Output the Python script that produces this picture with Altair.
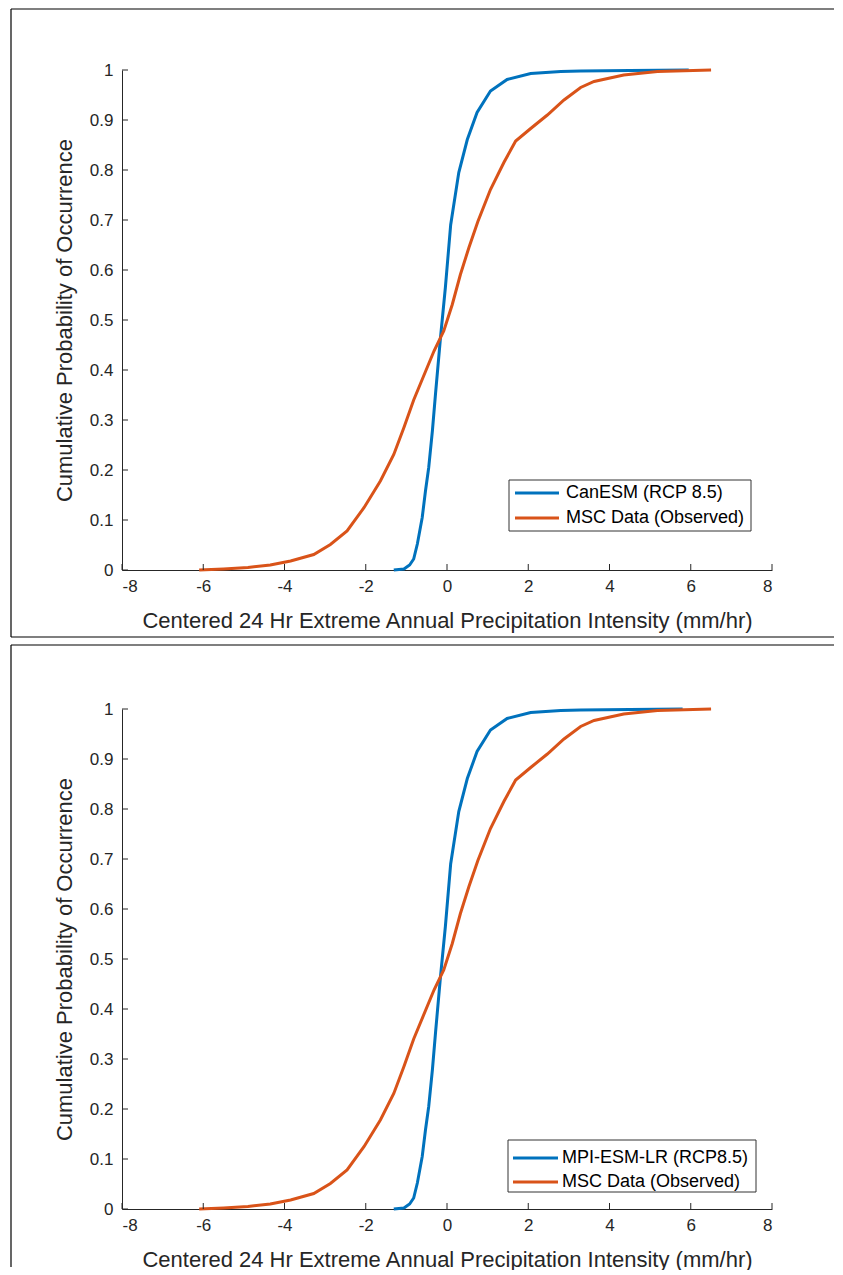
import altair as alt
import pandas as pd

# ---------------- data ----------------
X_TICKS = [-8, -6, -4, -2, 0, 2, 4, 6, 8]
Y_TICKS = [0, 0.1, 0.2, 0.3, 0.4, 0.5, 0.6, 0.7, 0.8, 0.9, 1]

OBS_LABEL = "MSC Data (Observed)"
OBS_X = [-6.10, -5.50, -4.90, -4.35, -3.85, -3.28, -2.87, -2.46, -2.04, -1.64,
         -1.31, -1.06, -0.82, -0.32, -0.08, 0.13, 0.33, 0.54, 0.76, 1.07,
         1.40, 1.69, 2.06, 2.47, 2.88, 3.29, 3.62, 4.35, 5.18, 6.50]
OBS_P = [0.000, 0.002, 0.005, 0.010, 0.018, 0.031, 0.051, 0.078, 0.125, 0.178,
         0.231, 0.285, 0.340, 0.438, 0.478, 0.531, 0.591, 0.645, 0.697, 0.761,
         0.815, 0.858, 0.883, 0.910, 0.940, 0.965, 0.977, 0.990, 0.997, 1.000]

CAN_LABEL = "CanESM (RCP 8.5)"
CAN_X = [-1.31, -1.06, -0.92, -0.82, -0.73, -0.61, -0.53, -0.45, -0.36, -0.28,
         -0.16, -0.04, 0.09, 0.29, 0.50, 0.74, 1.07, 1.48, 2.06, 2.80,
         3.29, 4.50, 5.95]
CAN_P = [0.000, 0.002, 0.010, 0.022, 0.052, 0.105, 0.158, 0.205, 0.278, 0.355,
         0.465, 0.565, 0.690, 0.795, 0.861, 0.915, 0.958, 0.981, 0.993, 0.997,
         0.998, 0.999, 1.000]

MPI_LABEL = "MPI-ESM-LR (RCP8.5)"
MPI_X = [-1.31, -1.06, -0.92, -0.82, -0.73, -0.61, -0.53, -0.45, -0.36, -0.28,
         -0.16, -0.04, 0.09, 0.29, 0.50, 0.74, 1.07, 1.48, 2.06, 2.80,
         3.29, 4.50, 5.80]
MPI_P = [0.000, 0.002, 0.010, 0.022, 0.052, 0.105, 0.158, 0.205, 0.278, 0.355,
         0.465, 0.565, 0.690, 0.795, 0.861, 0.915, 0.958, 0.981, 0.993, 0.997,
         0.998, 0.999, 1.000]

X_TITLE = "Centered 24 Hr Extreme Annual Precipitation Intensity (mm/hr)"
Y_TITLE = "Cumulative Probability of Occurrence"

BLUE = "#0072BD"
ORANGE = "#D95319"
TEXT = "#262626"
FONT = "Liberation Sans"
W, H = 650, 500

xs = alt.Scale(domain=[-8, 8], nice=False, zero=False)
ys = alt.Scale(domain=[0, 1], nice=False, zero=False)


def x_axis(title_pad):
    return alt.Axis(values=X_TICKS, labelExpr="'' + datum.value", title=X_TITLE,
                    ticks=False, grid=False, domainColor=TEXT, domainWidth=1,
                    labelColor=TEXT, labelFont=FONT, labelFontSize=17, labelPadding=8,
                    titleFont=FONT, titleFontSize=22, titleFontWeight="normal",
                    titleColor=TEXT, titlePadding=title_pad)


Y_AXIS = alt.Axis(values=Y_TICKS, format="~g", title=Y_TITLE, ticks=False, grid=False,
                  domainColor=TEXT, domainWidth=1, labelColor=TEXT, labelFont=FONT,
                  labelFontSize=17, labelPadding=9, titleFont=FONT, titleFontSize=22,
                  titleFontWeight="normal", titleColor=TEXT, titlePadding=13)


def panel(model_label, mx, mp, leg, frame_top, frame_bottom, draw_bottom, title_pad):
    rows = []
    for i, (x, p) in enumerate(zip(mx, mp)):
        rows.append({"x": x, "p": p, "series": model_label, "k": i})
    for i, (x, p) in enumerate(zip(OBS_X, OBS_P)):
        rows.append({"x": x, "p": p, "series": OBS_LABEL, "k": i})
    df = pd.DataFrame(rows)
    xa = x_axis(title_pad)

    lines = alt.Chart(df).mark_line(strokeWidth=3, clip=False).encode(
        x=alt.X("x:Q", scale=xs, axis=xa),
        y=alt.Y("p:Q", scale=ys, axis=Y_AXIS),
        color=alt.Color("series:N",
                        scale=alt.Scale(domain=[model_label, OBS_LABEL], range=[BLUE, ORANGE]),
                        legend=None),
        order="k:Q",
    )

    xt = alt.Chart(pd.DataFrame({"x": X_TICKS})).mark_rule(
        color=TEXT, strokeWidth=1).encode(
        x=alt.X("x:Q", scale=xs, axis=xa), y=alt.value(H), y2=alt.value(H - 6))
    yt = alt.Chart(pd.DataFrame({"p": Y_TICKS})).mark_rule(color=TEXT, strokeWidth=1).encode(
        y=alt.Y("p:Q", scale=ys, axis=Y_AXIS), x=alt.value(0), x2=alt.value(6))

    one = pd.DataFrame({"a": [0]})
    top = alt.Chart(one).mark_rule(color="#000", strokeWidth=1.2).encode(
        x=alt.value(-111), x2=alt.value(712), y=alt.value(frame_top))
    left = alt.Chart(one).mark_rule(color="#000", strokeWidth=1.2).encode(
        x=alt.value(-111), y=alt.value(frame_top), y2=alt.value(frame_bottom))
    layers = [lines, xt, yt, top, left]
    if draw_bottom:
        bot = alt.Chart(one).mark_rule(color="#000", strokeWidth=1.2).encode(
            x=alt.value(-111), x2=alt.value(712), y=alt.value(frame_bottom))
        layers.append(bot)

    # legend box drawn in MATLAB style
    bx0, bx1, by0, by1, r1, r2, sx0, sx1, tx = leg
    box = alt.Chart(one).mark_rect(fill="white", stroke="#333", strokeWidth=1).encode(
        x=alt.value(bx0), x2=alt.value(bx1), y=alt.value(by0), y2=alt.value(by1))
    layers.append(box)
    for lab, col, ry in [(model_label, BLUE, r1), (OBS_LABEL, ORANGE, r2)]:
        ld = pd.DataFrame({"label": [lab]})
        layers.append(alt.Chart(ld).mark_rule(color=col, strokeWidth=3).encode(
            x=alt.value(sx0), x2=alt.value(sx1), y=alt.value(ry)))
        layers.append(alt.Chart(ld).mark_text(
            align="left", baseline="middle", font=FONT, fontSize=18, color="#000").encode(
            text="label:N", x=alt.value(tx), y=alt.value(ry)))
    return alt.layer(*layers).properties(width=W, height=H)


LEG1 = (387, 629, 410, 461, 423, 448, 393, 437, 444)
LEG2 = (386, 634, 431, 483, 449, 473, 391, 436, 440)

p1 = panel(CAN_LABEL, CAN_X, CAN_P, LEG1, -61, 567, True, 16)
p2 = panel(MPI_LABEL, MPI_X, MPI_P, LEG2, -64, 558, False, 16)

chart = alt.vconcat(p1, p2, spacing=6).resolve_scale(color="independent").properties(
    padding={"left": 2, "top": 0, "right": 0, "bottom": 0},
    background="white",
).configure_view(strokeWidth=0)

chart.save("out.html", embed_options={"renderer": "svg", "actions": False})
